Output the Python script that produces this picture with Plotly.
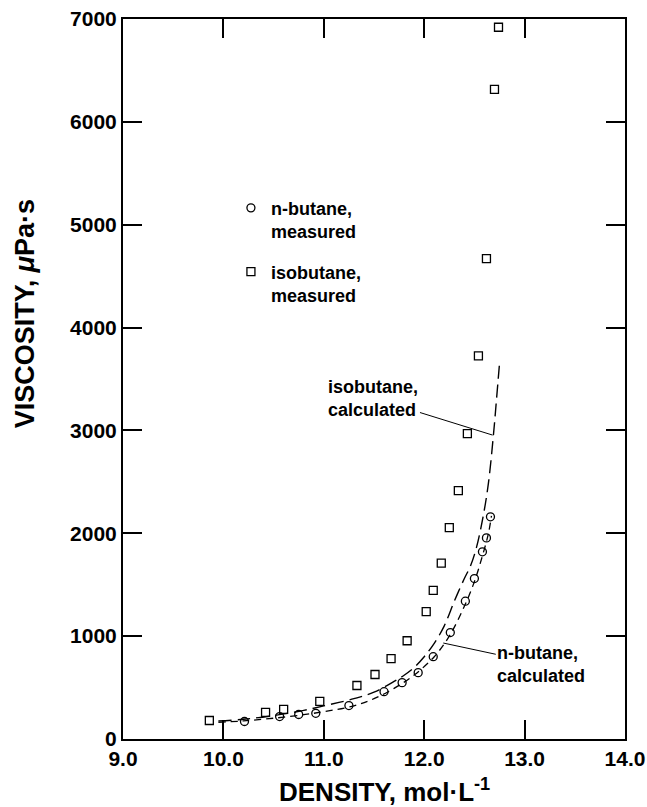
import plotly.graph_objects as go

# ---- data ----
nb_meas_x = [10.21, 10.56, 10.75, 10.92, 11.25, 11.60, 11.78, 11.94, 12.09, 12.26, 12.41, 12.50, 12.58, 12.62, 12.66]
nb_meas_y = [170, 218, 238, 250, 325, 460, 548, 645, 800, 1035, 1340, 1560, 1820, 1955, 2160]

ib_meas_x = [9.86, 10.42, 10.60, 10.96, 11.33, 11.51, 11.67, 11.83, 12.02, 12.09, 12.17, 12.25, 12.34, 12.43, 12.54, 12.62, 12.70, 12.74]
ib_meas_y = [180, 258, 288, 365, 520, 627, 782, 955, 1238, 1445, 1710, 2055, 2415, 2968, 3725, 4670, 6315, 6920]

ib_calc_x = [9.95, 10.2, 10.5, 10.8, 11.0, 11.3, 11.5, 11.7, 11.8, 11.9, 12.0, 12.1, 12.2, 12.3, 12.4, 12.46, 12.52, 12.59, 12.64, 12.69, 12.72, 12.75]
ib_calc_y = [175, 192, 228, 278, 322, 392, 455, 560, 620, 695, 800, 930, 1100, 1340, 1560, 1680, 1860, 2180, 2490, 2960, 3300, 3650]

nb_calc_x = [9.95, 10.2, 10.5, 10.8, 11.0, 11.3, 11.5, 11.7, 11.9, 12.1, 12.25, 12.4, 12.5, 12.58, 12.64, 12.67]
nb_calc_y = [162, 176, 202, 236, 266, 322, 392, 492, 622, 800, 1000, 1290, 1530, 1780, 2000, 2170]

x_ticks = [9.0, 10.0, 11.0, 12.0, 13.0, 14.0]
x_tick_labels = ["9.0", "10.0", "11.0", "12.0", "13.0", "14.0"]
y_ticks = [0, 1000, 2000, 3000, 4000, 5000, 6000, 7000]
y_tick_labels = ["0", "1000", "2000", "3000", "4000", "5000", "6000", "7000"]

FONT = "Liberation Sans, Arial, sans-serif"

fig = go.Figure()

fig.add_trace(go.Scatter(
    x=ib_calc_x, y=ib_calc_y, mode="lines", showlegend=False,
    line=dict(color="black", width=1.4, dash="13px,6px"), line_shape="spline"))
fig.add_trace(go.Scatter(
    x=nb_calc_x, y=nb_calc_y, mode="lines", showlegend=False,
    line=dict(color="black", width=1.3, dash="7px,5px"), line_shape="spline"))

fig.add_trace(go.Scatter(
    x=nb_meas_x, y=nb_meas_y, mode="markers", name="n-butane,<br>measured",
    legendgroup="a",
    marker=dict(symbol="circle-open", size=8, color="black", line=dict(width=1.3))))
fig.add_trace(go.Scatter(
    x=ib_meas_x, y=ib_meas_y, mode="markers", name="isobutane,<br>measured",
    legendgroup="b",
    marker=dict(symbol="square-open", size=8, color="black", line=dict(width=1.3))))

axis_common = dict(
    showgrid=False, zeroline=False, showline=True, linecolor="black", linewidth=2,
    mirror="ticks", ticks="inside", ticklen=19, tickwidth=2, tickcolor="black",
    automargin=False,
    tickfont=dict(family=FONT, size=21, color="black", weight="bold"),
)

fig.update_xaxes(range=[9.0, 14.0], tickvals=x_ticks, ticktext=x_tick_labels, **axis_common)
fig.update_yaxes(range=[0, 7000], tickvals=y_ticks, ticktext=y_tick_labels, **axis_common)

fig.add_annotation(
    text="isobutane,<br>calculated", x=12.68, y=2955, xref="x", yref="y",
    ax=-119, ay=-37, showarrow=True, arrowhead=0, arrowwidth=1, arrowcolor="black",
    align="left", font=dict(family=FONT, size=18, color="black", weight="bold"))
fig.add_annotation(
    text="n-butane,<br>calculated", x=12.19, y=933, xref="x", yref="y",
    ax=98, ay=21, showarrow=True, arrowhead=0, arrowwidth=1, arrowcolor="black",
    align="left", font=dict(family=FONT, size=18, color="black", weight="bold"))

fig.add_annotation(
    text="DENSITY, mol·L<sup>-1</sup>", xref="paper", yref="paper",
    x=0.52, y=-0.071, xanchor="center", yanchor="middle", showarrow=False,
    font=dict(family=FONT, size=26, color="black", weight="bold"))
fig.add_annotation(
    text="VISCOSITY, <i>μ</i>Pa·s", xref="paper", yref="paper",
    x=-0.195, y=0.59, xanchor="center", yanchor="middle", showarrow=False, textangle=-90,
    font=dict(family=FONT, size=27, color="black", weight="bold"))

fig.update_layout(
    width=647, height=807,
    margin=dict(l=123, r=22, t=19, b=68),
    paper_bgcolor="white", plot_bgcolor="white",
    showlegend=True,
    legend=dict(x=0.215, y=0.763, xanchor="left", yanchor="top", valign="top",
                bgcolor="rgba(0,0,0,0)", tracegroupgap=14,
                font=dict(family=FONT, size=18, color="black", weight="bold")),
)

fig.write_html("out.html")
